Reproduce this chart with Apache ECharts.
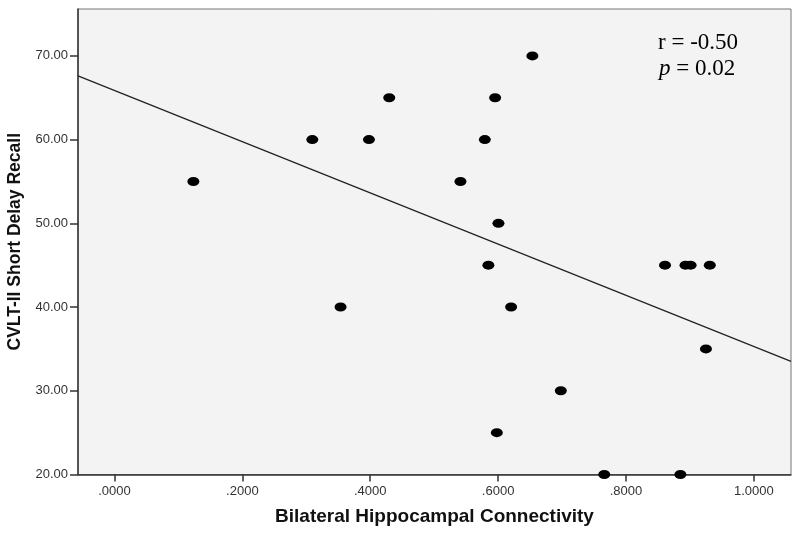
<!DOCTYPE html>
<html>
<head>
<meta charset="utf-8">
<script src="https://cdn.jsdelivr.net/npm/echarts@6/dist/echarts.min.js"></script>
<style>html,body{margin:0;padding:0;background:#fff}#c{width:800px;height:533px}</style>
</head>
<body>
<div id="c"></div>
<script>
// Data
const connectivity = [0.6536, 0.4297, 0.5953, 0.3094, 0.398, 0.5792, 0.1234, 0.5411, 0.6005,
  0.5848, 0.861, 0.893, 0.901, 0.931, 0.3536, 0.6203, 0.925, 0.698, 0.598, 0.766, 0.885];
const recall = [70, 65, 65, 60, 60, 60, 55, 55, 50,
  45, 45, 45, 45, 45, 40, 40, 35, 30, 25, 20, 20];
const fitX = [-0.057, 1.058];
const fitY = [67.6, 33.5];
const xTicks = [0, 0.2, 0.4, 0.6, 0.8, 1.0];
const yTicks = [20, 30, 40, 50, 60, 70];
const annotR = 'r = -0.50';
const annotP = '0.02';

const points = connectivity.map((x, i) => [x, recall[i]]);
const fitLine = fitX.map((x, i) => [x, fitY[i]]);

const chart = echarts.init(document.getElementById('c'));
const labelFont = { fontFamily: 'Liberation Sans, Arial, sans-serif', fontSize: 13, color: '#333' };
const serif = '23px "Liberation Serif", "Times New Roman", serif';
chart.setOption({
  animation: false,
  backgroundColor: '#fff',
  grid: { left: 78, right: 9, top: 9, bottom: 58.5, show: true, backgroundColor: '#f3f3f3', borderColor: '#777', borderWidth: 1, containLabel: false, outerBoundsMode: 'none' },
  xAxis: {
    type: 'value', min: -0.057, max: 1.058,
    name: 'Bilateral Hippocampal Connectivity', nameLocation: 'middle', nameGap: 33,
    nameTextStyle: { fontFamily: 'Liberation Sans, Arial, sans-serif', fontSize: 19, fontWeight: 'bold', color: '#111' },
    splitLine: { show: false },
    axisLine: { onZero: false, lineStyle: { color: '#333', width: 1.5 } },
    axisTick: { show: true, length: 7, lineStyle: { color: '#333', width: 1.5 }, customValues: xTicks },
    axisLabel: Object.assign({ margin: 10, customValues: xTicks, formatter: v => { const s = v.toFixed(4); return v < 1 ? s.replace(/^0/, '') : s; } }, labelFont)
  },
  yAxis: {
    type: 'value', min: 20, max: 75.6,
    name: 'CVLT-II Short Delay Recall', nameLocation: 'middle', nameGap: 53,
    nameTextStyle: { fontFamily: 'Liberation Sans, Arial, sans-serif', fontSize: 17.5, fontWeight: 'bold', color: '#111' },
    splitLine: { show: false },
    axisLine: { show: true, onZero: false, lineStyle: { color: '#333', width: 1.5 } },
    axisTick: { show: true, length: 8, lineStyle: { color: '#333', width: 1.5 }, customValues: yTicks },
    axisLabel: Object.assign({ margin: 10, customValues: yTicks, formatter: v => v.toFixed(2) }, labelFont)
  },
  series: [
    { type: 'line', data: fitLine, symbol: 'none', lineStyle: { color: '#222', width: 1.3 }, silent: true, z: 2 },
    { type: 'scatter', data: points, symbol: 'circle', symbolSize: [12, 9], itemStyle: { color: '#000', opacity: 1 }, z: 3 }
  ],
  graphic: [
    { type: 'text', left: 658, top: 31, style: { text: annotR, font: serif, fill: '#000' } },
    { type: 'text', left: 659, top: 57, style: { text: '{i|p} = ' + annotP, font: serif, fill: '#000',
      rich: { i: { fontStyle: 'italic', fontFamily: 'Liberation Serif', fontSize: 23 } } } }
  ]
});
</script>
</body>
</html>
